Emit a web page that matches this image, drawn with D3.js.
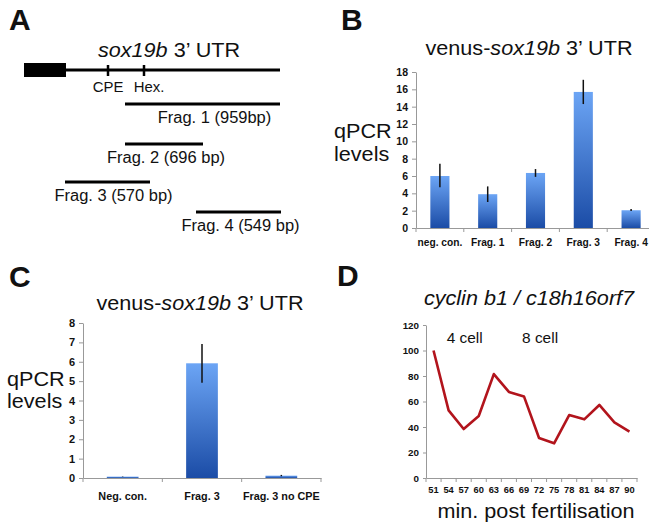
<!DOCTYPE html>
<html>
<head>
<meta charset="utf-8">
<script src="https://cdn.jsdelivr.net/npm/d3@7"></script>
<style>
  body { margin: 0; background: #fff; }
  svg { display: block; }
  text { font-family: "Liberation Sans", Arial, Helvetica, sans-serif; fill: #111; }
</style>
</head>
<body>
<script>
// ---------------- DATA ----------------
// Panel A: schematic of sox19b 3' UTR (schematic units)
const utrExtent = [0, 256];
const cdsEnd = 42;
const motifNames = ["CPE", "Hex."];
const motifPos = [84, 120];
const fragNames = ["Frag. 1 (959bp)", "Frag. 2 (696 bp)", "Frag. 3 (570 bp)", "Frag. 4 (549 bp)"];
const fragStart = [101, 101, 41, 172];
const fragEnd = [256, 179, 126, 257];

// Panel B
const catsB = ["neg. con.", "Frag. 1", "Frag. 2", "Frag. 3", "Frag. 4"];
const valsB = [6.0, 3.9, 6.35, 15.7, 2.05];
const errLoB = [4.7, 3.0, 5.9, 14.3, 1.95];
const errHiB = [7.4, 4.8, 6.8, 17.1, 2.2];
const ticksB = [0, 2, 4, 6, 8, 10, 12, 14, 16, 18];

// Panel C
const catsC = ["Neg. con.", "Frag. 3", "Frag. 3 no CPE"];
const valsC = [0.07, 5.92, 0.12];
const errLoC = [0.06, 4.92, 0.09];
const errHiC = [0.08, 6.92, 0.16];
const ticksC = [0, 1, 2, 3, 4, 5, 6, 7, 8];

// Panel D
const minutesD = [51, 54, 57, 60, 63, 66, 69, 72, 75, 78, 81, 84, 87, 90];
const valsD = [100, 53, 38.4, 48.6, 81.5, 67.5, 64, 31.4, 27.2, 49.4, 46, 57.3, 43.7, 36.3];
const ticksD = [0, 20, 40, 60, 80, 100, 120];
const stageLabels = ["4 cell", "8 cell"];
const stageAt = [57, 72];

// ---------------- DRAWING ----------------
const W = 649, H = 532;
const SX = 1.03; // slight horizontal stretch of regular text in the original
const BIG = 21;
const svg = d3.select("body").append("svg").attr("width", W).attr("height", H);

const defs = svg.append("defs");
const grad = defs.append("linearGradient").attr("id", "barGrad")
  .attr("x1", 0).attr("y1", 0).attr("x2", 0).attr("y2", 1);
grad.append("stop").attr("offset", "0%").attr("stop-color", "#6ca5f5");
grad.append("stop").attr("offset", "100%").attr("stop-color", "#1b4ca6");

function txt(g, x, y, parts, size, anchor = "start", opts = {}) {
  const t = g.append("text")
    .attr("transform", `translate(${x},${y}) scale(${opts.sx ?? SX},1)`)
    .attr("text-anchor", anchor)
    .attr("font-size", size)
    .attr("font-weight", opts.weight || "normal");
  parts.forEach(p => {
    t.append("tspan").text(p[0]).attr("font-style", p[1] ? "italic" : "normal");
  });
  return t;
}
function panelLetter(x, y, s) {
  svg.append("text").attr("x", x).attr("y", y).attr("font-size", 30)
    .attr("font-weight", "bold").attr("font-family", "Liberation Sans, Arial, sans-serif").text(s);
}
function styleTicks(sel, fs) {
  sel.selectAll("text").attr("font-size", fs).attr("font-weight", "bold").style("fill", "#111")
    .attr("font-family", "Liberation Sans, Arial, sans-serif");
}

// ---- Panel A ----
panelLetter(9, 30, "A");
const gA = svg.append("g");
const xA = d3.scaleLinear().domain(utrExtent).range([24, 280]);
txt(gA, 169, 57, [["sox19b", true], [" 3\u2019 UTR", false]], BIG, "middle");
gA.append("rect").attr("x", xA(0)).attr("y", 63).attr("width", xA(cdsEnd) - xA(0)).attr("height", 14).attr("fill", "#000");
gA.append("line").attr("x1", xA(cdsEnd)).attr("x2", xA(utrExtent[1])).attr("y1", 70).attr("y2", 70)
  .attr("stroke", "#000").attr("stroke-width", 3);
const motifDx = [0, 5];
motifNames.forEach((m, i) => {
  gA.append("line").attr("x1", xA(motifPos[i])).attr("x2", xA(motifPos[i])).attr("y1", 65).attr("y2", 76)
    .attr("stroke", "#000").attr("stroke-width", 2.5);
  txt(gA, xA(motifPos[i]) + motifDx[i], 92, [[m, false]], 14.5, "middle");
});
const fragRowY = [104, 144, 182, 212];
const fragLabelDx = [12, 2, 6, 2];
fragNames.forEach((f, i) => {
  gA.append("line").attr("x1", xA(fragStart[i])).attr("x2", xA(fragEnd[i]))
    .attr("y1", fragRowY[i]).attr("y2", fragRowY[i]).attr("stroke", "#000").attr("stroke-width", 3);
  const cx = (xA(fragStart[i]) + xA(fragEnd[i])) / 2 + fragLabelDx[i];
  txt(gA, cx, fragRowY[i] + 19, [[f, false]], 16, "middle");
});

// ---- bar chart helper ----
function barChart(cfg) {
  const g = svg.append("g");
  const x = d3.scaleBand().domain(cfg.cats).range(cfg.xr).paddingInner(0.6).paddingOuter(0.3);
  const y = d3.scaleLinear().domain([0, cfg.ticks[cfg.ticks.length - 1]]).range(cfg.yr);
  const ya = g.append("g").attr("transform", `translate(${cfg.xr[0]},0)`)
    .call(d3.axisLeft(y).tickValues(cfg.ticks).tickSize(4).tickSizeOuter(0).tickPadding(cfg.yPad));
  styleTicks(ya, cfg.yfs);
  ya.selectAll("line,path").attr("stroke", "#999");
  const xa = g.append("g").attr("transform", `translate(0,${cfg.yr[0]})`)
    .call(d3.axisBottom(x).tickSize(0).tickPadding(cfg.xPad).tickSizeOuter(0));
  styleTicks(xa, cfg.xfs);
  xa.select(".domain").attr("stroke", "#999");
  const bounds = d3.range(cfg.cats.length + 1).map(i => cfg.xr[0] + i * x.step());
  g.selectAll(".bt").data(bounds).join("line").attr("class", "bt")
    .attr("x1", d => d).attr("x2", d => d).attr("y1", cfg.yr[0]).attr("y2", cfg.yr[0] + 4)
    .attr("stroke", "#999");
  g.selectAll(".bar").data(cfg.vals).join("rect").attr("class", "bar")
    .attr("x", (d, i) => x(cfg.cats[i])).attr("width", x.bandwidth())
    .attr("y", d => y(d)).attr("height", d => y(0) - y(d))
    .attr("fill", "url(#barGrad)");
  g.selectAll(".err").data(cfg.vals).join("line").attr("class", "err")
    .attr("x1", (d, i) => x(cfg.cats[i]) + x.bandwidth() / 2)
    .attr("x2", (d, i) => x(cfg.cats[i]) + x.bandwidth() / 2)
    .attr("y1", (d, i) => y(cfg.lo[i])).attr("y2", (d, i) => y(cfg.hi[i]))
    .attr("stroke", "#111").attr("stroke-width", 1.5);
  return g;
}

// ---- Panel B ----
panelLetter(341, 30, "B");
const gB = barChart({ cats: catsB, vals: valsB, lo: errLoB, hi: errHiB, ticks: ticksB,
  xr: [416, 416 + 5 * 47.8], yr: [228, 72], yPad: 4, xPad: 11, xfs: 10.2, yfs: 10.5 });
txt(gB, 529, 55, [["venus-", false], ["sox19b", true], [" 3\u2019 UTR", false]], BIG, "middle");
txt(gB, 334, 138, [["qPCR", false]], BIG, "start");
txt(gB, 334, 161, [["levels", false]], BIG, "start");

// ---- Panel C ----
panelLetter(9, 287, "C");
const gC = barChart({ cats: catsC, vals: valsC, lo: errLoC, hi: errHiC, ticks: ticksC,
  xr: [83, 321], yr: [478, 323], yPad: 4, xPad: 14, xfs: 10.8, yfs: 11 });
txt(gC, 200, 310, [["venus-", false], ["sox19b", true], [" 3\u2019 UTR", false]], BIG, "middle");
txt(gC, 7, 386, [["qPCR", false]], BIG, "start");
txt(gC, 7, 408, [["levels", false]], BIG, "start");

// ---- Panel D ----
panelLetter(337, 286, "D");
const gD = svg.append("g");
const xD = d3.scaleBand().domain(minutesD).range([426, 637]);
const yD = d3.scaleLinear().domain([0, 120]).range([478, 325]);
const yaD = gD.append("g").attr("transform", "translate(426,0)")
  .call(d3.axisLeft(yD).tickValues(ticksD).tickSize(3).tickSizeOuter(0).tickPadding(4));
styleTicks(yaD, 9.8);
yaD.selectAll("line,path").attr("stroke", "#999");
const xaD = gD.append("g").attr("transform", "translate(0,478)")
  .call(d3.axisBottom(xD).tickSize(0).tickPadding(8).tickSizeOuter(0));
styleTicks(xaD, 9.3);
xaD.select(".domain").attr("stroke", "#999");
gD.selectAll(".bt").data(d3.range(minutesD.length + 1).map(i => 426 + i * xD.step()))
  .join("line").attr("class", "bt")
  .attr("x1", d => d).attr("x2", d => d).attr("y1", 478).attr("y2", 482).attr("stroke", "#999");
const lineD = d3.line().x((d, i) => xD(minutesD[i]) + xD.bandwidth() / 2).y(d => yD(d));
gD.append("path").datum(valsD).attr("d", lineD).attr("fill", "none")
  .attr("stroke", "#b2141c").attr("stroke-width", 2.6).attr("stroke-linejoin", "round");
txt(gD, 529, 305, [["cyclin b1 / c18h16orf7", true]], BIG, "middle");
stageLabels.forEach((s, i) => {
  txt(gD, xD(stageAt[i]) + xD.bandwidth() / 2 + 1, 343, [[s, false]], 15, "middle");
});
txt(gD, 536, 518, [["min. post fertilisation", false]], BIG, "middle");
</script>
</body>
</html>
